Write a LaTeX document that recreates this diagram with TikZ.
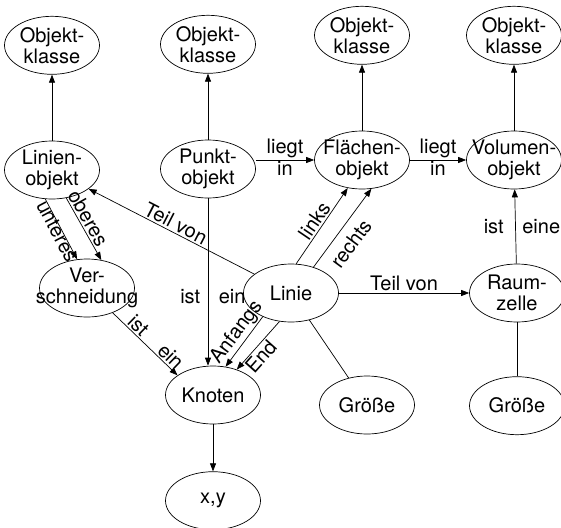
\documentclass[tikz,border=0pt]{standalone}
\usepackage{fontspec}
\setmainfont{TeX Gyre Heros}
\usetikzlibrary{positioning}
\usetikzlibrary{shapes.geometric}
\usetikzlibrary{arrows.meta}

\begin{document}
\begin{tikzpicture}
[
x=1pt, y=-1pt,
node distance=66pt and 40pt,
>={Triangle[length=8pt, width=6pt]},
line width=0.7pt,
every node/.style={font=\fontsize{20}{21}\selectfont},
ell/.style={ellipse, draw, inner xsep=-30pt, inner ysep=-1pt, minimum width=95pt, minimum height=58pt, align=center},
lab/.style={inner sep=1.5pt},
]
\useasboundingbox (0,0) rectangle (561,527);

\node (lobj) [ell] at (52,170) {Linien-\\objekt};
\node (pobj) [ell] at (208,169) {Punkt-\\objekt};
\node (fobj) [ell] at (362,160) {Flächen-\\objekt};
\node (vobj) [ell] at (514,160) {Volumen-\\objekt};

\node (ok1) [ell, above=of lobj] {Objekt-\\klasse};
\node (ok2) [ell, above=of pobj] {Objekt-\\klasse};
\node (ok3) [ell, above=of fobj] {Objekt-\\klasse};
\node (ok4) [ell, above=of vobj] {Objekt-\\klasse};

\node (versch) [ell] at (87,288) {Ver-\\schneidung};
\node (linie) [ell] at (291,293) {Linie};
\node (raum) [ell] at (517,293) {Raum-\\zelle};

\node (knoten) [ell] at (213,395) {Knoten};
\node (xy) [ell, below=47pt of knoten] {x,y};
\node (g1) [ell] at (367,405) {Größe};
\node (g2) [ell, below=54pt of raum] {Größe};

\draw [->] (lobj) -- (ok1);
\draw [->] (pobj) -- (ok2);
\draw [->] (fobj) -- (ok3);
\draw [->] (vobj) -- (ok4);
\draw [->] (pobj.east |- fobj) -- node [lab, above] {liegt} node [lab, below] {in} (fobj);
\draw [->] (fobj) -- node [lab, above] {liegt} node [lab, below] {in} (vobj);
\draw [->] (linie) -- node [lab, sloped, above] {Teil von} (lobj);
\draw [->] (lobj.257) -- node [lab, sloped, below=-4pt] {unteres} (versch.109);
\draw [->] (lobj.297) -- node [lab, sloped, above, pos=0.4] {oberes} (versch.63);
\draw [->] (linie.80) -- node [lab, sloped, above] {links} (fobj.243);
\draw [->] (linie.49) -- node [lab, sloped, below=7pt, pos=0.42] {rechts} (fobj.288);
\draw [->] (linie.220) -- node [lab, sloped, above, pos=0.45] {Anfangs} (knoten.66);
\draw [->] (linie.248) -- node [lab, sloped, below, pos=0.6] {End} (knoten.47);
\draw [->] (pobj) -- node [lab, left=6pt, pos=0.59] {ist} node [lab, right=9pt, pos=0.59] {ein} (pobj |- knoten.north);
\draw [->] (versch.-44) -- node [lab, sloped, above, pos=0.3] {ist} node [lab, sloped, above, pos=0.8] {ein} (knoten.151);
\draw [->] (linie) -- node [lab, above] {Teil von} (raum);
\draw [->] (raum) -- node [lab, left=10pt] {ist} node [lab, right=5pt] {eine} (vobj);
\draw (linie) -- (g1);
\draw (raum) -- (g2);
\draw [->] (knoten) -- (xy);
\end{tikzpicture}
\end{document}
